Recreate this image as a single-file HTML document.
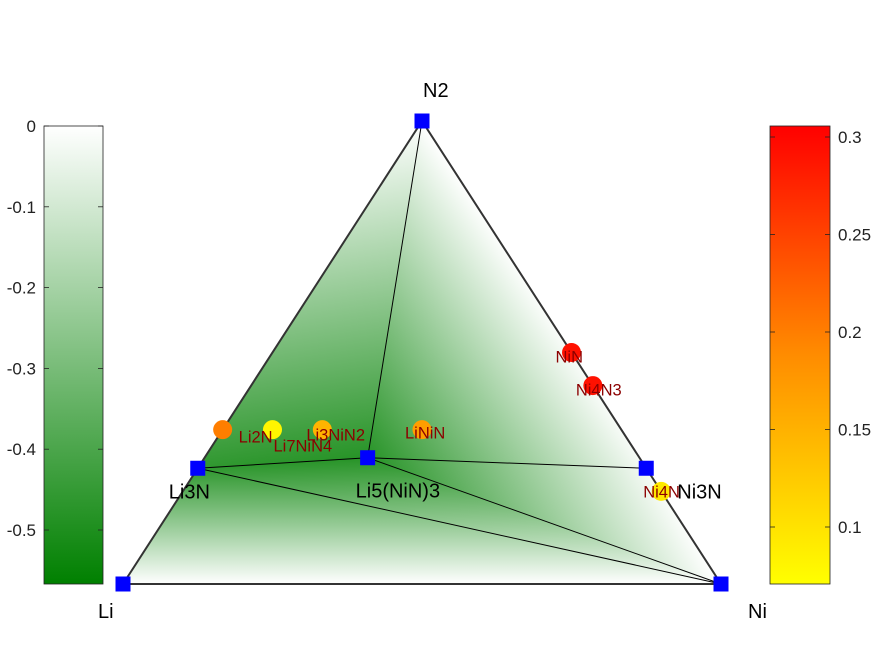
<!DOCTYPE html>
<html><head><meta charset="utf-8"><style>
body{margin:0;background:#fff;}
svg text{font-family:"Liberation Sans",sans-serif;}
</style></head><body>
<svg id="chart" width="875" height="656" viewBox="0 0 875 656" xmlns="http://www.w3.org/2000/svg">
<defs id="defs">
<linearGradient id="gL" x1="0" y1="0" x2="0" y2="1"><stop offset="0" stop-color="#ffffff"/><stop offset="1" stop-color="#008000"/></linearGradient>
<linearGradient id="gR" x1="0" y1="0" x2="0" y2="1"><stop offset="0" stop-color="#ff0000"/><stop offset="0.5" stop-color="#ff8c00"/><stop offset="1" stop-color="#ffff00"/></linearGradient>
</defs>
</svg>
<script>
const NS="http://www.w3.org/2000/svg";
// composition fractions [Li, Ni, N]
const stableNames=["Li","Ni","N2","Li3N","Li5(NiN)3","Ni3N"];
const stableComp=[[1,0,0],[0,1,0],[0,0,1],[0.75,0,0.25],[5/11,3/11,3/11],[0,0.75,0.25]];
const stableE=[0,0,0,-0.46,-0.48,-0.02];
const facets=[[0,3,1],[3,4,1],[4,5,1],[2,3,4],[2,4,5],[2,5,1]];
const unstableNames=["Li2N","Li7NiN4","Li3NiN2","LiNiN","NiN","Ni4N3","Ni4N"];
const unstableComp=[[2/3,0,1/3],[7/12,1/12,4/12],[0.5,1/6,1/3],[1/3,1/3,1/3],[0,0.5,0.5],[0,4/7,3/7],[0,0.8,0.2]];
const unstableE=[0.19,0.08,0.14,0.16,0.29,0.29,0.09];
const tieLines=[[2,4],[3,4],[4,5],[3,1],[4,1]];
const leftTicks=[0,-0.1,-0.2,-0.3,-0.4,-0.5];
const rightTicks=[0.1,0.15,0.2,0.25,0.3];
const eMin=-0.567;

const A=[123,584],B=[721,584],C=[422,121];
function tern(c){return [c[0]*A[0]+c[1]*B[0]+c[2]*C[0], c[0]*A[1]+c[1]*B[1]+c[2]*C[1]];}
const svg=document.getElementById('chart');
const defs=document.getElementById('defs');
function el(t,a,p){const e=document.createElementNS(NS,t);for(const k in a)e.setAttribute(k,a[k]);(p||svg).appendChild(e);return e;}

facets.forEach((f,i)=>{
  const P=f.map(k=>tern(stableComp[k])), V=f.map(k=>stableE[k]);
  const x1=P[1][0]-P[0][0],y1=P[1][1]-P[0][1],x2=P[2][0]-P[0][0],y2=P[2][1]-P[0][1];
  const d1=V[1]-V[0],d2=V[2]-V[0],det=x1*y2-x2*y1;
  const a=(d1*y2-d2*y1)/det,b=(x1*d2-x2*d1)/det,n2=a*a+b*b;
  let fill;
  if(n2<1e-12){const t=V[0]/eMin;fill='rgb('+Math.round(255*(1-t))+','+Math.round(255-127*t)+','+Math.round(255*(1-t))+')';}
  else{
    const s0=(0-V[0])/n2,s1=(eMin-V[0])/n2;
    const g=el('linearGradient',{id:'fg'+i,gradientUnits:'userSpaceOnUse',x1:P[0][0]+a*s0,y1:P[0][1]+b*s0,x2:P[0][0]+a*s1,y2:P[0][1]+b*s1},defs);
    el('stop',{offset:0,'stop-color':'#ffffff'},g);el('stop',{offset:1,'stop-color':'#008000'},g);
    fill='url(#fg'+i+')';
  }
  const poly=el('polygon',{points:P.map(p=>p.join(',')).join(' '),fill:fill,stroke:fill,'stroke-width':0.6});
  
  
});
tieLines.forEach(l=>{const p=tern(stableComp[l[0]]),q=tern(stableComp[l[1]]);
const ln=el('line',{x1:p[0],y1:p[1],x2:q[0],y2:q[1],stroke:'#000','stroke-width':1});

});
const edge=el('polygon',{points:[A,B,C].map(p=>p.join(',')).join(' '),fill:'none',stroke:'#333','stroke-width':2});



const yL=v=>126+(0-v)/0.1*80.8;
const cbL=el('rect',{x:44,y:126,width:59,height:458,fill:'url(#gL)',stroke:'#222','stroke-width':0.8});


leftTicks.forEach(v=>{const y=yL(v);
el('line',{x1:44,y1:y,x2:49,y2:y,stroke:'#222','stroke-width':0.8});el('line',{x1:98,y1:y,x2:103,y2:y,stroke:'#222','stroke-width':0.8});
const t=el('text',{x:36,y:y+6,'text-anchor':'end','font-size':17,fill:'#222'});t.textContent=(v===0?'0':v.toString());

});
const yR=v=>137+(0.3-v)/0.05*97.5;
const cbR=el('rect',{x:770,y:126,width:60,height:458,fill:'url(#gR)',stroke:'#222','stroke-width':0.8});


rightTicks.forEach(v=>{const y=yR(v);
el('line',{x1:770,y1:y,x2:775,y2:y,stroke:'#222','stroke-width':0.8});el('line',{x1:825,y1:y,x2:830,y2:y,stroke:'#222','stroke-width':0.8});
const t=el('text',{x:838,y:y+6,'font-size':17,fill:'#222'});t.textContent=v.toString();

});

function eColor(e){let f=(e-0.0708)/(0.3056-0.0708);f=Math.max(0,Math.min(1,f));
let g=Math.round(255*(1-f));return 'rgb(255,'+g+',0)';}
const lblOff=[[16,13],[1,22],[-16,11],[-17,9],[-16,10],[-17,10],[-18,6]];
unstableComp.forEach((c,i)=>{const p=tern(c);
const d=el('circle',{cx:p[0],cy:p[1],r:9.5,fill:eColor(unstableE[i])});

});
unstableComp.forEach((c,i)=>{const p=tern(c);
const t=el('text',{x:p[0]+lblOff[i][0],y:p[1]+lblOff[i][1],'font-size':16.5,fill:'#8b0000'});t.textContent=unstableNames[i];

});
const sOff=[[-25,34,'start'],[27,34,'start'],[1,-24,'start'],[-29,30,'start'],[-12,40,'start'],[31,30,'start']];
stableComp.forEach((c,i)=>{const p=tern(c);
const s=el('rect',{x:p[0]-7.5,y:p[1]-7.5,width:15,height:15,fill:'#0000ff'});


const t=el('text',{x:p[0]+sOff[i][0],y:p[1]+sOff[i][1],'font-size':20,fill:'#000','text-anchor':sOff[i][2]});t.textContent=stableNames[i];

});
</script>
</body></html>
